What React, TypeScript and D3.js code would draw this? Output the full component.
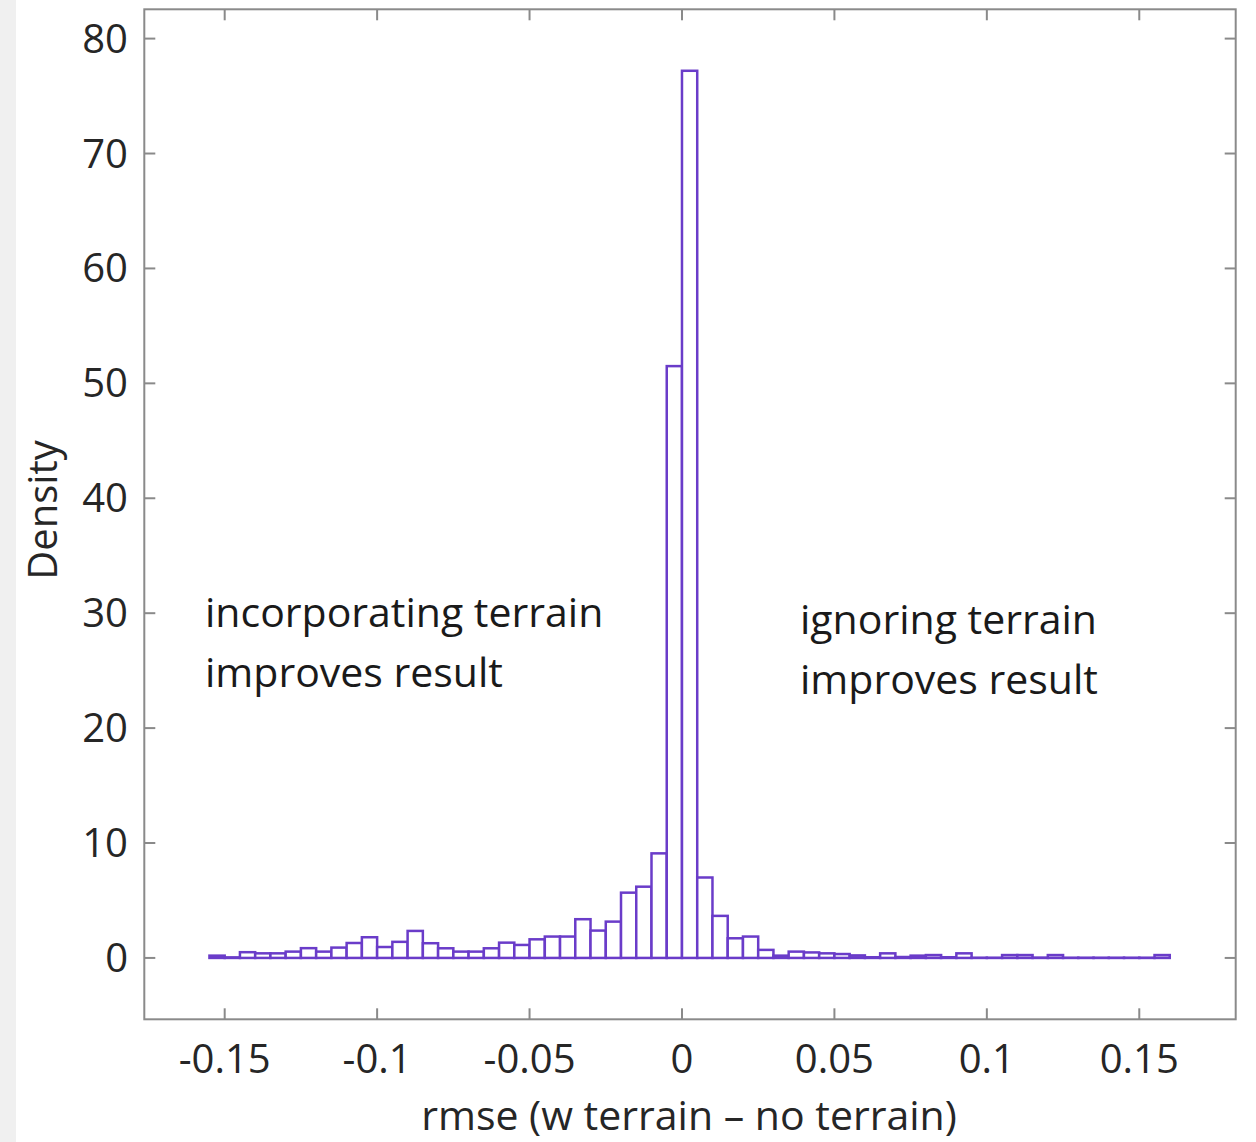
import React from "react";
import * as d3 from "d3";

// Histogram bins: start at -0.155, width 0.005
const binStart = -0.155;
const binWidth = 0.005;
const densities = [
  0.2, 0.05, 0.5, 0.4, 0.4, 0.55, 0.85, 0.55, 0.9, 1.3,
  1.8, 0.95, 1.4, 2.35, 1.28, 0.84, 0.55, 0.55, 0.84, 1.33,
  1.13, 1.62, 1.86, 1.86, 3.37, 2.38, 3.16, 5.68, 6.2, 9.1,
  51.5, 77.2, 7.0, 3.66, 1.71, 1.86, 0.7, 0.2, 0.55, 0.48,
  0.4, 0.34, 0.22, 0.06, 0.4, 0.08, 0.2, 0.25, 0.06, 0.4,
  0.02, 0.02, 0.25, 0.25, 0.03, 0.25, 0.02, 0.02, 0.02, 0.02,
  0.02, 0.02, 0.25,
];

const xTicks = [-0.15, -0.1, -0.05, 0, 0.05, 0.1, 0.15];
const xTickLabels = ["-0.15", "-0.1", "-0.05", "0", "0.05", "0.1", "0.15"];
const yTicks = [0, 10, 20, 30, 40, 50, 60, 70, 80];

const xLabel = "rmse (w terrain \u2013 no terrain)";
const yLabel = "Density";
const leftNote = ["incorporating terrain", "improves result"];
const rightNote = ["ignoring terrain", "improves result"];

const W = 1256;
const H = 1142;
const plot = { left: 144.3, right: 1235.7, top: 9.3, bottom: 1019.3 };

export default function App() {
  const x = d3.scaleLinear().domain([-0.17637, 0.18163]).range([plot.left, plot.right]);
  const y = d3.scaleLinear().domain([-5.34, 82.55]).range([plot.bottom, plot.top]);
  const font = "'Open Sans', sans-serif";
  const tickColor = "#262626";
  const axisColor = "#8a8a8a";
  const barColor = "#6a3cc9";
  const tl = 11;

  const bars = densities.map((v, i) => {
    const x0 = binStart + i * binWidth;
    return { x0, x1: x0 + binWidth, v };
  });

  return (
    <svg width={W} height={H} style={{ position: "absolute", left: 0, top: 0, background: "#fff" }} fontFamily={font}>
      <rect x={0} y={0} width={16} height={H} fill="#f0f0f0" />
      {/* bars */}
      <g>
        {bars.map((b, i) => (
          <rect
            key={i}
            x={x(b.x0)}
            y={y(b.v)}
            width={x(b.x1) - x(b.x0)}
            height={y(0) - y(b.v)}
            fill="#fff"
            stroke={barColor}
            strokeWidth={2.5}
          />
        ))}
      </g>
      {/* frame */}
      <rect
        x={plot.left}
        y={plot.top}
        width={plot.right - plot.left}
        height={plot.bottom - plot.top}
        fill="none"
        stroke={axisColor}
        strokeWidth={2}
      />
      {/* x ticks */}
      {xTicks.map((t, i) => (
        <g key={"xt" + i}>
          <line x1={x(t)} x2={x(t)} y1={plot.bottom} y2={plot.bottom - tl} stroke={axisColor} strokeWidth={2} />
          <line x1={x(t)} x2={x(t)} y1={plot.top} y2={plot.top + tl} stroke={axisColor} strokeWidth={2} />
          <text x={x(t)} y={1073} textAnchor="middle" fontSize={40} fill={tickColor}>
            {xTickLabels[i]}
          </text>
        </g>
      ))}
      {/* y ticks */}
      {yTicks.map((t, i) => (
        <g key={"yt" + i}>
          <line x1={plot.left} x2={plot.left + tl} y1={y(t)} y2={y(t)} stroke={axisColor} strokeWidth={2} />
          <line x1={plot.right} x2={plot.right - tl} y1={y(t)} y2={y(t)} stroke={axisColor} strokeWidth={2} />
          <text x={128} y={y(t) + 14} textAnchor="end" fontSize={40} fill={tickColor}>
            {String(t)}
          </text>
        </g>
      ))}
      {/* labels */}
      <text x={689} y={1130} textAnchor="middle" fontSize={41} fill={tickColor}>
        {xLabel}
      </text>
      <text
        transform={`translate(57,510) rotate(-90)`}
        textAnchor="middle"
        fontSize={40}
        fill={tickColor}
      >
        {yLabel}
      </text>
      {leftNote.map((s, i) => (
        <text key={"l" + i} x={205} y={627 + i * 60} fontSize={41} fill="#1a1a1a">
          {s}
        </text>
      ))}
      {rightNote.map((s, i) => (
        <text key={"r" + i} x={800} y={634 + i * 60} fontSize={41} fill="#1a1a1a">
          {s}
        </text>
      ))}
    </svg>
  );
}
